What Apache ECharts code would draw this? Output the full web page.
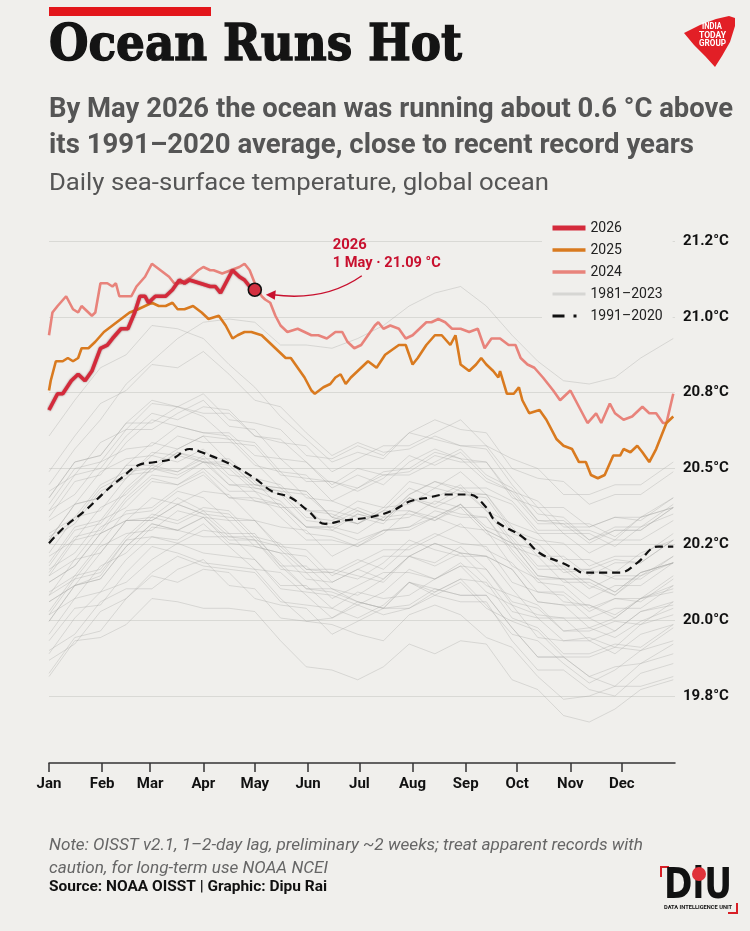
<!DOCTYPE html>
<html>
<head>
<meta charset="utf-8">
<title>Ocean Runs Hot</title>
<script src="https://cdn.jsdelivr.net/npm/echarts@6.0.0/dist/echarts.min.js"></script>
<style>
  html, body { margin: 0; padding: 0; background: #f0efec; }
  #chart { width: 750px; height: 931px; }
</style>
</head>
<body>
<div id="chart"></div>
<script>
  // x = day of year (1 Jan = 0), y = daily SST in °C
  const monthStarts = [0, 31, 59, 90, 120, 151, 181, 212, 243, 273, 304, 334];
  const monthLabels = ['Jan', 'Feb', 'Mar', 'Apr', 'May', 'Jun', 'Jul', 'Aug', 'Sep', 'Oct', 'Nov', 'Dec'];
  const yTicks = [19.8, 20.0333, 20.2667, 20.5, 20.7333, 20.9667, 21.2];
  const yTickLabels = ['19.8°C', '20.0°C', '20.2°C', '20.5°C', '20.8°C', '21.0°C', '21.2°C'];

  const days2026 = [0, 5, 8, 13, 17, 21, 25, 30, 34, 37, 42, 46, 50, 53, 56, 58, 62, 68, 72, 76, 79, 82, 88, 94, 97, 100, 103, 107, 111, 114, 117, 120];
  const temp2026 = [20.68, 20.73, 20.73, 20.77, 20.79, 20.77, 20.80, 20.87, 20.88, 20.90, 20.93, 20.93, 20.98, 21.03, 21.03, 21.01, 21.03, 21.03, 21.05, 21.08, 21.07, 21.08, 21.07, 21.06, 21.06, 21.04, 21.07, 21.11, 21.09, 21.08, 21.06, 21.05];

  const days2025 = [0, 1, 4, 8, 11, 14, 17, 19, 23, 27, 32, 37, 42, 47, 52, 56, 60, 64, 68, 72, 75, 79, 84, 89, 93, 99, 103, 107, 110, 114, 118, 124, 132, 138, 141, 145, 149, 153, 155, 160, 164, 167, 170, 173, 176, 180, 186, 191, 196, 204, 208, 212, 215, 220, 225, 229, 234, 237, 240, 245, 249, 252, 255, 259, 262, 263, 267, 271, 274, 276, 280, 286, 290, 296, 300, 305, 309, 313, 316, 320, 324, 329, 333, 335, 339, 343, 346, 350, 354, 357, 360, 364];
  const temp2025 = [20.74, 20.77, 20.83, 20.83, 20.84, 20.83, 20.84, 20.87, 20.87, 20.89, 20.92, 20.94, 20.96, 20.98, 20.99, 21.00, 21.01, 21.00, 21.00, 21.01, 20.99, 20.99, 21.00, 20.98, 20.96, 20.97, 20.94, 20.90, 20.91, 20.92, 20.92, 20.91, 20.87, 20.84, 20.84, 20.81, 20.78, 20.74, 20.73, 20.75, 20.76, 20.78, 20.79, 20.76, 20.78, 20.80, 20.83, 20.81, 20.85, 20.88, 20.88, 20.82, 20.84, 20.88, 20.91, 20.91, 20.88, 20.91, 20.82, 20.80, 20.82, 20.84, 20.82, 20.80, 20.78, 20.80, 20.73, 20.73, 20.75, 20.71, 20.67, 20.68, 20.65, 20.59, 20.57, 20.56, 20.52, 20.52, 20.48, 20.47, 20.48, 20.54, 20.54, 20.56, 20.55, 20.57, 20.55, 20.52, 20.56, 20.60, 20.64, 20.66];

  const days2024 = [0, 2, 5, 10, 14, 17, 19, 25, 27, 30, 34, 37, 39, 41, 45, 48, 51, 56, 60, 65, 70, 73, 77, 83, 87, 90, 94, 96, 101, 106, 111, 114, 117, 120, 124, 126, 129, 132, 135, 139, 145, 149, 153, 157, 162, 167, 171, 174, 178, 182, 186, 190, 192, 195, 199, 204, 208, 212, 216, 220, 223, 227, 231, 235, 240, 245, 250, 254, 258, 263, 268, 272, 275, 279, 283, 288, 294, 298, 302, 304, 307, 311, 314, 319, 322, 327, 330, 335, 340, 346, 350, 354, 358, 360, 364];
  const temp2024 = [20.91, 20.98, 21.00, 21.03, 20.99, 20.98, 21.00, 20.97, 20.98, 21.07, 21.07, 21.06, 21.07, 21.03, 21.03, 21.03, 21.06, 21.09, 21.13, 21.11, 21.09, 21.07, 21.07, 21.09, 21.11, 21.12, 21.11, 21.11, 21.10, 21.11, 21.12, 21.13, 21.11, 21.07, 21.03, 21.02, 21.01, 20.97, 20.94, 20.92, 20.93, 20.92, 20.91, 20.91, 20.90, 20.92, 20.92, 20.89, 20.87, 20.88, 20.91, 20.94, 20.95, 20.93, 20.94, 20.93, 20.90, 20.91, 20.93, 20.95, 20.95, 20.96, 20.95, 20.93, 20.93, 20.92, 20.93, 20.87, 20.90, 20.90, 20.88, 20.88, 20.84, 20.82, 20.81, 20.78, 20.74, 20.71, 20.73, 20.74, 20.71, 20.67, 20.64, 20.67, 20.64, 20.70, 20.67, 20.65, 20.66, 20.69, 20.67, 20.67, 20.64, 20.64, 20.73];

  // 1991–2020 daily average
  const daysClim = [0, 9, 21, 33, 42, 52, 62, 72, 82, 89, 107, 120, 130, 141, 151, 161, 172, 187, 200, 211, 221, 231, 245, 255, 260, 276, 286, 299, 307, 311, 322, 333, 343, 355, 364];
  const tempClim = [20.27, 20.32, 20.37, 20.43, 20.47, 20.51, 20.52, 20.53, 20.56, 20.55, 20.51, 20.47, 20.43, 20.41, 20.37, 20.33, 20.34, 20.35, 20.37, 20.40, 20.41, 20.42, 20.42, 20.38, 20.34, 20.29, 20.24, 20.21, 20.19, 20.18, 20.18, 20.18, 20.21, 20.26, 20.26];

  // background years 1981–2023, sampled about every 15 days
  const greyDays = [0, 15, 30, 45, 60, 75, 90, 105, 120, 135, 150, 165, 180, 195, 210, 225, 240, 255, 270, 285, 300, 315, 330, 345, 364];
  const greyYears = [1981, 1982, 1983, 1984, 1985, 1986, 1987, 1988, 1989, 1990, 1991, 1992, 1993, 1994, 1995, 1996, 1997, 1998, 1999, 2000, 2001, 2002, 2003, 2004, 2005, 2006, 2007, 2008, 2009, 2010, 2011, 2012, 2013, 2014, 2015, 2016, 2017, 2018, 2019, 2020, 2021, 2022, 2023];
  const greyTemps = [
    [19.97, 20.07, 20.08, 20.18, 20.26, 20.24, 20.21, 20.20, 20.19, 20.10, 20.03, 20.04, 20.08, 20.05, 20.07, 20.12, 20.16, 20.08, 19.99, 19.97, 19.90, 19.84, 19.88, 19.94, 19.97],
    [19.93, 20.04, 20.12, 20.15, 20.22, 20.27, 20.24, 20.23, 20.22, 20.13, 20.12, 20.11, 20.08, 20.12, 20.19, 20.16, 20.20, 20.19, 20.08, 20.05, 20.04, 19.97, 20.00, 20.06, 20.08],
    [20.15, 20.20, 20.30, 20.34, 20.34, 20.39, 20.36, 20.29, 20.29, 20.21, 20.13, 20.12, 20.09, 20.07, 20.15, 20.13, 20.11, 20.11, 20.01, 19.92, 19.92, 19.86, 19.83, 19.90, 19.93],
    [19.94, 19.99, 20.09, 20.13, 20.13, 20.19, 20.22, 20.14, 20.13, 20.04, 20.03, 20.02, 19.99, 19.97, 20.05, 20.08, 20.05, 19.98, 19.95, 19.86, 19.79, 19.80, 19.83, 19.83, 19.86],
    [19.86, 19.97, 19.98, 20.02, 20.10, 20.09, 20.07, 20.07, 20.06, 19.97, 19.89, 19.88, 19.85, 19.89, 19.96, 19.93, 19.97, 19.96, 19.85, 19.82, 19.74, 19.72, 19.76, 19.82, 19.85],
    [19.87, 19.98, 20.00, 20.10, 20.17, 20.15, 20.19, 20.18, 20.10, 20.08, 20.07, 19.99, 20.03, 20.07, 20.07, 20.11, 20.15, 20.07, 20.03, 20.00, 19.92, 19.92, 19.95, 19.94, 20.01],
    [20.05, 20.16, 20.18, 20.28, 20.35, 20.33, 20.37, 20.36, 20.28, 20.26, 20.25, 20.17, 20.21, 20.25, 20.25, 20.29, 20.33, 20.25, 20.21, 20.12, 20.12, 20.06, 20.10, 20.10, 20.17],
    [20.15, 20.20, 20.30, 20.34, 20.35, 20.41, 20.37, 20.30, 20.30, 20.20, 20.13, 20.13, 20.09, 20.07, 20.15, 20.11, 20.09, 20.09, 19.97, 19.88, 19.88, 19.82, 19.80, 19.87, 19.90],
    [19.91, 19.96, 20.06, 20.10, 20.18, 20.23, 20.20, 20.19, 20.18, 20.09, 20.08, 20.07, 20.04, 20.08, 20.15, 20.12, 20.16, 20.15, 20.04, 20.01, 19.93, 19.93, 19.96, 19.95, 20.02],
    [20.03, 20.14, 20.16, 20.26, 20.33, 20.31, 20.35, 20.34, 20.26, 20.24, 20.23, 20.15, 20.19, 20.23, 20.23, 20.27, 20.24, 20.23, 20.19, 20.09, 20.08, 20.01, 20.04, 20.10, 20.12],
    [20.09, 20.14, 20.24, 20.34, 20.34, 20.39, 20.36, 20.35, 20.34, 20.25, 20.18, 20.18, 20.16, 20.21, 20.28, 20.25, 20.23, 20.23, 20.13, 20.04, 20.04, 20.04, 20.00, 20.06, 20.09],
    [20.09, 20.14, 20.17, 20.28, 20.29, 20.28, 20.33, 20.26, 20.19, 20.18, 20.11, 20.04, 20.09, 20.07, 20.08, 20.13, 20.11, 20.11, 20.01, 19.92, 19.92, 19.86, 19.89, 19.90, 19.96],
    [19.99, 20.10, 20.12, 20.22, 20.29, 20.27, 20.31, 20.30, 20.22, 20.14, 20.14, 20.07, 20.12, 20.10, 20.11, 20.16, 20.20, 20.12, 20.08, 19.98, 19.97, 19.97, 19.93, 19.99, 20.02],
    [20.03, 20.14, 20.16, 20.26, 20.33, 20.31, 20.35, 20.27, 20.26, 20.24, 20.16, 20.15, 20.19, 20.16, 20.23, 20.27, 20.24, 20.23, 20.19, 20.09, 20.08, 20.08, 20.04, 20.10, 20.13],
    [20.17, 20.22, 20.32, 20.36, 20.37, 20.43, 20.41, 20.34, 20.34, 20.26, 20.19, 20.19, 20.17, 20.15, 20.23, 20.21, 20.26, 20.19, 20.09, 20.07, 20.00, 20.01, 19.98, 20.03, 20.07],
    [20.05, 20.10, 20.20, 20.24, 20.32, 20.31, 20.29, 20.29, 20.28, 20.19, 20.18, 20.10, 20.14, 20.18, 20.18, 20.16, 20.21, 20.14, 20.11, 20.08, 20.00, 20.00, 20.03, 20.02, 20.09],
    [20.12, 20.17, 20.27, 20.37, 20.38, 20.44, 20.48, 20.41, 20.41, 20.39, 20.32, 20.32, 20.36, 20.34, 20.42, 20.46, 20.44, 20.44, 20.40, 20.31, 20.31, 20.31, 20.28, 20.35, 20.38],
    [20.41, 20.52, 20.54, 20.64, 20.64, 20.69, 20.66, 20.59, 20.58, 20.49, 20.41, 20.40, 20.37, 20.34, 20.41, 20.38, 20.36, 20.35, 20.24, 20.15, 20.14, 20.07, 20.10, 20.09, 20.16],
    [20.11, 20.16, 20.26, 20.30, 20.31, 20.37, 20.35, 20.28, 20.28, 20.20, 20.20, 20.13, 20.11, 20.16, 20.23, 20.20, 20.24, 20.16, 20.06, 20.04, 19.97, 19.98, 19.95, 20.02, 20.05],
    [20.06, 20.17, 20.19, 20.29, 20.36, 20.34, 20.38, 20.37, 20.29, 20.27, 20.19, 20.18, 20.22, 20.19, 20.26, 20.30, 20.27, 20.26, 20.15, 20.12, 20.11, 20.04, 20.07, 20.07, 20.14],
    [20.17, 20.28, 20.30, 20.40, 20.47, 20.45, 20.49, 20.41, 20.40, 20.38, 20.30, 20.29, 20.26, 20.30, 20.37, 20.34, 20.38, 20.30, 20.26, 20.23, 20.15, 20.15, 20.11, 20.17, 20.21],
    [20.21, 20.32, 20.34, 20.44, 20.51, 20.49, 20.53, 20.45, 20.44, 20.42, 20.34, 20.33, 20.37, 20.34, 20.41, 20.38, 20.42, 20.41, 20.30, 20.27, 20.19, 20.19, 20.22, 20.21, 20.28],
    [20.29, 20.34, 20.44, 20.48, 20.49, 20.55, 20.53, 20.53, 20.46, 20.38, 20.38, 20.31, 20.36, 20.34, 20.35, 20.40, 20.38, 20.38, 20.28, 20.19, 20.19, 20.13, 20.17, 20.17, 20.23],
    [20.23, 20.28, 20.38, 20.42, 20.50, 20.49, 20.54, 20.47, 20.40, 20.39, 20.32, 20.32, 20.30, 20.35, 20.36, 20.34, 20.39, 20.32, 20.29, 20.20, 20.20, 20.14, 20.11, 20.18, 20.21],
    [20.28, 20.39, 20.41, 20.51, 20.51, 20.56, 20.60, 20.52, 20.45, 20.44, 20.37, 20.37, 20.35, 20.33, 20.41, 20.39, 20.44, 20.37, 20.27, 20.25, 20.18, 20.19, 20.16, 20.16, 20.23],
    [20.20, 20.31, 20.33, 20.43, 20.50, 20.48, 20.52, 20.45, 20.45, 20.43, 20.35, 20.34, 20.38, 20.35, 20.42, 20.46, 20.43, 20.42, 20.31, 20.28, 20.27, 20.20, 20.23, 20.23, 20.30],
    [20.30, 20.35, 20.45, 20.49, 20.50, 20.55, 20.52, 20.50, 20.43, 20.40, 20.32, 20.31, 20.28, 20.31, 20.32, 20.35, 20.32, 20.31, 20.20, 20.16, 20.09, 20.08, 20.05, 20.10, 20.14],
    [20.11, 20.22, 20.24, 20.34, 20.41, 20.39, 20.43, 20.42, 20.34, 20.32, 20.31, 20.23, 20.27, 20.31, 20.31, 20.35, 20.39, 20.31, 20.27, 20.17, 20.16, 20.16, 20.12, 20.18, 20.21],
    [20.18, 20.29, 20.31, 20.41, 20.48, 20.47, 20.52, 20.51, 20.44, 20.43, 20.42, 20.35, 20.40, 20.38, 20.46, 20.44, 20.49, 20.42, 20.39, 20.30, 20.30, 20.24, 20.28, 20.28, 20.34],
    [20.35, 20.46, 20.48, 20.58, 20.65, 20.63, 20.61, 20.60, 20.52, 20.44, 20.43, 20.35, 20.33, 20.37, 20.37, 20.35, 20.39, 20.31, 20.27, 20.17, 20.16, 20.16, 20.12, 20.18, 20.21],
    [20.19, 20.24, 20.34, 20.38, 20.46, 20.45, 20.50, 20.43, 20.43, 20.35, 20.28, 20.28, 20.26, 20.31, 20.32, 20.37, 20.35, 20.35, 20.25, 20.16, 20.16, 20.10, 20.14, 20.14, 20.21],
    [20.24, 20.35, 20.37, 20.47, 20.54, 20.52, 20.56, 20.48, 20.47, 20.45, 20.37, 20.36, 20.33, 20.37, 20.44, 20.41, 20.45, 20.37, 20.33, 20.30, 20.22, 20.22, 20.18, 20.24, 20.28],
    [20.28, 20.33, 20.43, 20.47, 20.55, 20.54, 20.52, 20.52, 20.45, 20.44, 20.43, 20.35, 20.33, 20.38, 20.39, 20.44, 20.42, 20.42, 20.32, 20.23, 20.23, 20.17, 20.21, 20.21, 20.28],
    [20.28, 20.39, 20.41, 20.51, 20.58, 20.56, 20.60, 20.59, 20.51, 20.49, 20.48, 20.40, 20.44, 20.48, 20.48, 20.52, 20.56, 20.48, 20.44, 20.34, 20.33, 20.33, 20.29, 20.35, 20.38],
    [20.37, 20.48, 20.50, 20.60, 20.67, 20.65, 20.69, 20.68, 20.60, 20.58, 20.57, 20.49, 20.53, 20.57, 20.57, 20.61, 20.65, 20.57, 20.53, 20.50, 20.42, 20.42, 20.45, 20.45, 20.52],
    [20.60, 20.71, 20.81, 20.85, 20.94, 20.93, 20.90, 20.82, 20.75, 20.66, 20.59, 20.52, 20.55, 20.53, 20.61, 20.59, 20.57, 20.57, 20.47, 20.38, 20.38, 20.32, 20.35, 20.35, 20.41],
    [20.43, 20.48, 20.58, 20.62, 20.70, 20.69, 20.67, 20.67, 20.60, 20.59, 20.52, 20.45, 20.50, 20.48, 20.49, 20.54, 20.52, 20.52, 20.42, 20.33, 20.33, 20.27, 20.31, 20.31, 20.38],
    [20.34, 20.39, 20.49, 20.53, 20.54, 20.60, 20.58, 20.58, 20.57, 20.48, 20.47, 20.46, 20.43, 20.47, 20.54, 20.51, 20.55, 20.47, 20.43, 20.40, 20.32, 20.32, 20.35, 20.34, 20.41],
    [20.41, 20.52, 20.54, 20.64, 20.71, 20.69, 20.73, 20.65, 20.64, 20.62, 20.54, 20.53, 20.57, 20.54, 20.61, 20.65, 20.62, 20.61, 20.50, 20.47, 20.46, 20.39, 20.42, 20.42, 20.49],
    [20.49, 20.60, 20.70, 20.74, 20.82, 20.81, 20.86, 20.79, 20.71, 20.69, 20.61, 20.54, 20.58, 20.55, 20.56, 20.60, 20.57, 20.56, 20.45, 20.36, 20.35, 20.28, 20.31, 20.31, 20.38],
    [20.37, 20.42, 20.52, 20.56, 20.57, 20.63, 20.61, 20.61, 20.54, 20.53, 20.46, 20.46, 20.44, 20.49, 20.50, 20.55, 20.53, 20.46, 20.43, 20.34, 20.34, 20.28, 20.32, 20.32, 20.39],
    [20.39, 20.50, 20.52, 20.62, 20.62, 20.67, 20.71, 20.63, 20.62, 20.53, 20.52, 20.44, 20.48, 20.45, 20.52, 20.56, 20.53, 20.52, 20.41, 20.38, 20.30, 20.30, 20.26, 20.32, 20.36],
    [20.45, 20.56, 20.65, 20.76, 20.83, 20.90, 20.95, 20.96, 20.95, 20.88, 20.88, 20.87, 20.90, 20.94, 21.00, 21.04, 21.06, 21.00, 20.91, 20.83, 20.77, 20.76, 20.78, 20.84, 20.90]
  ];

  const bg = '#f0efec';
  const red = '#c8102e';
  const labelFont = 'Roboto, "Noto Sans", sans-serif';

  const pairs = (xs, ys) => xs.map((d, i) => [d, ys[i]]);
  const tickLabel = v => {
    const i = yTicks.findIndex(t => Math.abs(t - v) < 1e-6);
    return i < 0 ? '' : yTickLabels[i];
  };

  // squeeze wide fonts down to the width of the condensed original
  const measureCtx = document.createElement('canvas').getContext('2d');
  function fit(text, font, width) {
    measureCtx.font = font;
    return width / measureCtx.measureText(text).width;
  }
  function line(text, x, y, size, weight, style, family, color, width, extra) {
    const font = style + ' ' + weight + ' ' + size + 'px ' + family;
    return {
      type: 'text', x: x, y: y, scaleX: width ? fit(text, font, width) : 1, silent: true,
      style: Object.assign({
        text: text, fontSize: size, fontWeight: weight, fontStyle: style, fontFamily: family,
        fill: color, align: 'left', verticalAlign: 'middle'
      }, extra || {})
    };
  }

  const greySeries = greyYears.map((yr, i) => ({
    name: '1981–2023',
    type: 'line',
    data: pairs(greyDays, greyTemps[i]),
    symbol: 'none',
    silent: true,
    lineStyle: { color: 'rgba(170,170,166,0.36)', width: 1 }
  }));

  const chart = echarts.init(document.getElementById('chart'), null, { renderer: 'canvas' });

  chart.setOption({
    backgroundColor: bg,
    animation: false,
    grid: { left: 49, right: 75, top: 241, bottom: 168, containLabel: false, outerBoundsMode: 'none' },
    legend: {
      orient: 'vertical',
      left: 542,
      top: 216,
      padding: [5, 10, 4, 8],
      backgroundColor: bg,
      itemWidth: 33,
      itemHeight: 14,
      itemGap: 8,
      itemStyle: { opacity: 0 },
      textStyle: { fontSize: 14, color: '#222', fontFamily: labelFont, lineHeight: 14 },
      data: [
        { name: '2026', lineStyle: { width: 5 } },
        { name: '2025', lineStyle: { width: 3.5 } },
        { name: '2024', lineStyle: { width: 3.5 } },
        { name: '1981–2023', lineStyle: { width: 3, color: '#d6d6d3' } },
        { name: '1991–2020', lineStyle: { width: 3, type: [12, 9, 3, 20] } }
      ]
    },
    xAxis: {
      type: 'value',
      min: 0,
      max: 365,
      axisLine: { show: true, onZero: false, lineStyle: { color: '#333', width: 1.5 } },
      axisTick: { show: true, length: 9, lineStyle: { color: '#333', width: 1.5 }, customValues: monthStarts },
      axisLabel: {
        customValues: monthStarts,
        formatter: v => monthLabels[monthStarts.indexOf(v)],
        margin: 14, fontSize: 15, fontWeight: 'bold', color: '#111', fontFamily: labelFont
      },
      splitLine: { show: false }
    },
    yAxis: {
      type: 'value',
      position: 'right',
      min: 19.594,
      max: 21.2,
      axisLine: { show: false },
      axisTick: { show: false, customValues: yTicks },
      axisLabel: {
        customValues: yTicks,
        formatter: tickLabel,
        margin: 8, fontSize: 15, fontWeight: 'bold', color: '#111', fontFamily: labelFont
      },
      splitLine: { show: true, lineStyle: { color: '#d9d9d5', width: 1 } }
    },
    series: greySeries.concat([
      {
        name: '1991–2020',
        type: 'line',
        data: pairs(daysClim, tempClim),
        symbol: 'none',
        smooth: 0.4,
        lineStyle: { color: '#111', width: 2.2, type: [8, 5] }
      },
      {
        name: '2024',
        type: 'line',
        data: pairs(days2024, temp2024),
        symbol: 'none',
        lineStyle: { color: '#e8837b', width: 2.6 }
      },
      {
        name: '2025',
        type: 'line',
        data: pairs(days2025, temp2025),
        symbol: 'none',
        lineStyle: { color: '#d97a1f', width: 2.6 }
      },
      {
        name: '2026',
        type: 'line',
        data: pairs(days2026, temp2026),
        symbol: 'none',
        lineStyle: { color: '#d42a3b', width: 3.6, shadowColor: 'rgba(90,0,10,0.55)', shadowBlur: 2 },
        markPoint: {
          symbol: 'circle',
          symbolSize: 13,
          silent: true,
          label: { show: false },
          itemStyle: { color: '#d43040', borderColor: '#111', borderWidth: 1.6 },
          data: [{ coord: [days2026[days2026.length - 1], temp2026[temp2026.length - 1]] }]
        }
      }
    ])
  });

  // header, footer, logos and the callout for the latest 2026 reading
  const last = chart.convertToPixel({ xAxisIndex: 0, yAxisIndex: 0 },
    [days2026[days2026.length - 1], temp2026[temp2026.length - 1]]);
  const px = last[0], py = last[1];

  chart.setOption({
    graphic: { elements: [
      { type: 'rect', silent: true, shape: { x: 49, y: 7, width: 162, height: 9 }, style: { fill: '#e3161b' } },
      line('Ocean Runs Hot', 49, 47, 50, 'bold', 'normal', '"DejaVu Serif", serif', '#141414', 413,
        { stroke: '#141414', lineWidth: 1.4 }),
      line('By May 2026 the ocean was running about 0.6 °C above', 49, 110, 28, 'bold', 'normal', 'Roboto', '#555', 684),
      line('its 1991–2020 average, close to recent record years', 49, 146, 28, 'bold', 'normal', 'Roboto', '#555', 645),
      line('Daily sea-surface temperature, global ocean', 49, 184, 24, 'normal', 'normal', 'Roboto', '#555', 500),

      line('Note: OISST v2.1, 1–2-day lag, preliminary ~2 weeks; treat apparent records with', 49, 846, 16, 'normal', 'italic', 'Roboto', '#666', 594),
      line('caution, for long-term use NOAA NCEI', 49, 869, 16, 'normal', 'italic', 'Roboto', '#666', 279),
      line('Source: NOAA OISST | Graphic: Dipu Rai', 49, 887, 15, 'bold', 'normal', 'Roboto', '#111', 278),

      // callout
      line('2026', px + 78, py - 45, 15, 'bold', 'normal', 'Roboto', red, 34),
      line('1 May · 21.09 °C', px + 78, py - 27, 15, 'bold', 'normal', 'Roboto', red, 108),
      {
        type: 'bezierCurve', silent: true,
        shape: { x1: px + 107, y1: py - 14, cpx1: px + 70, cpy1: py + 12, x2: px + 18, y2: py + 5 },
        style: { stroke: red, lineWidth: 1.4, fill: null }
      },
      {
        type: 'polygon', silent: true,
        shape: { points: [[px + 11, py + 5], [px + 21, py + 0.5], [px + 20, py + 10]] },
        style: { fill: red }
      },

      // India Today Group mark
      {
        type: 'polygon', silent: true,
        shape: { points: [[684, 33], [700, 25], [716, 19], [729, 16], [735, 18], [735, 26], [730, 42], [722, 56], [715, 67], [705, 56], [694, 45]] },
        style: { fill: '#e21f26' }
      },
      line('INDIA', 702, 27, 9, 'bold', 'normal', 'Roboto', '#fff', 20),
      line('TODAY', 699, 35.5, 9, 'bold', 'normal', 'Roboto', '#fff', 27),
      line('GROUP', 699, 43.5, 9, 'bold', 'normal', 'Roboto', '#fff', 27),

      // DiU mark
      { type: 'polyline', silent: true, shape: { points: [[661, 877], [661, 867], [669, 867]] }, style: { stroke: '#d81f26', lineWidth: 2, fill: null } },
      { type: 'polyline', silent: true, shape: { points: [[728, 913], [737, 913], [737, 903]] }, style: { stroke: '#d81f26', lineWidth: 2, fill: null } },
      line('DiU', 664, 887, 42, 'bold', 'normal', '"DejaVu Sans", sans-serif', '#111', 68),
      { type: 'circle', silent: true, shape: { cx: 699, cy: 874, r: 7 }, style: { fill: '#e0323a' } },
      line('DATA INTELLIGENCE UNIT', 664, 908, 5, 'bold', 'normal', 'Roboto', '#111', 68)
    ] }
  });
</script>
</body>
</html>
